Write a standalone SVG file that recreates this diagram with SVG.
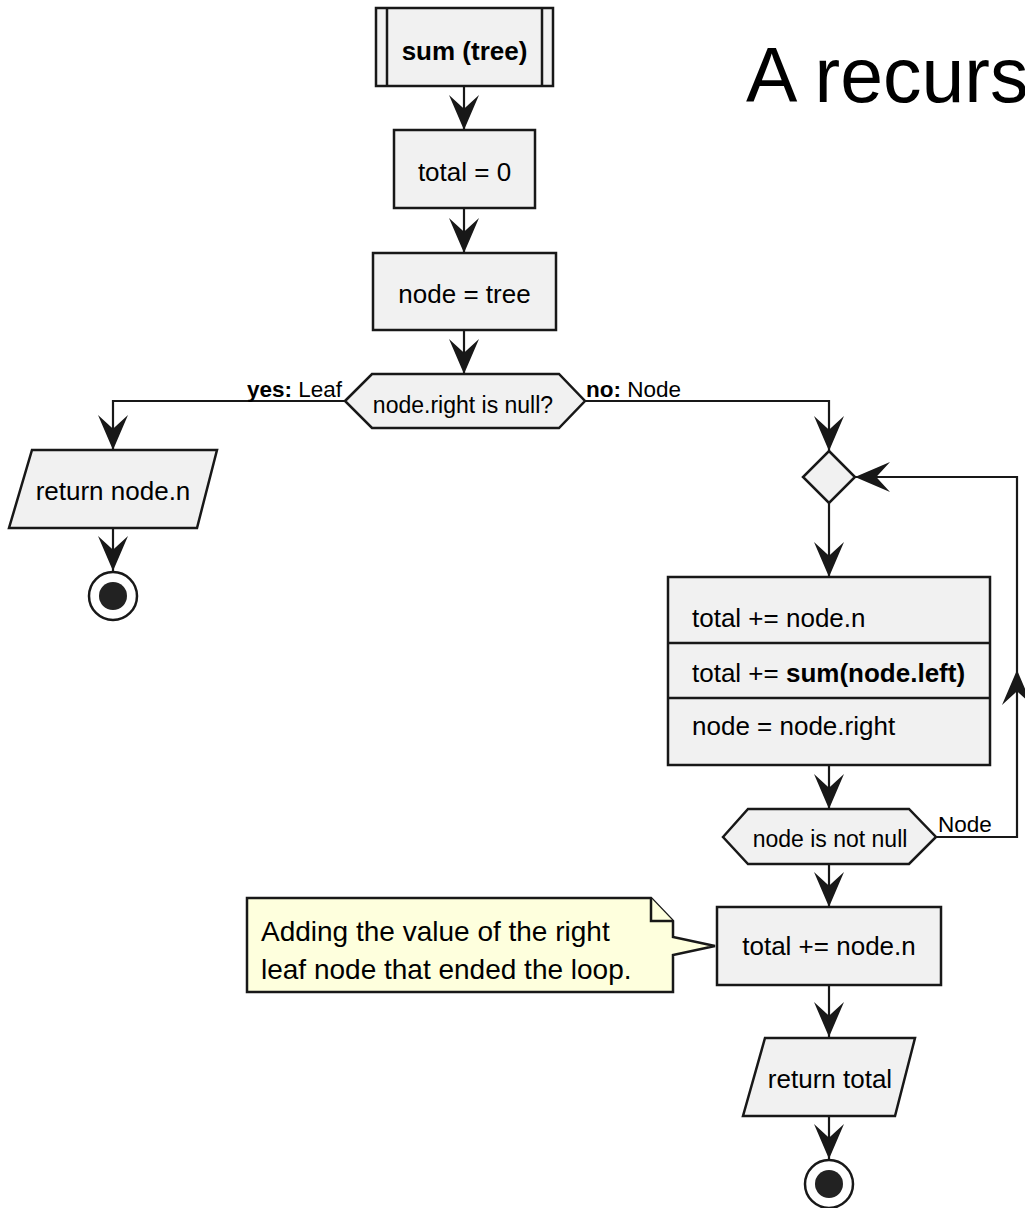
<svg xmlns="http://www.w3.org/2000/svg" width="1025" height="1208" viewBox="0 0 1025 1208">
  <style>
    text { font-family: "Liberation Sans", Arial, sans-serif; fill: #000; }
    .box { fill: #F1F1F1; stroke: #181818; stroke-width: 2.5; }
    .note { fill: #FEFFDD; stroke: #181818; stroke-width: 2.5; stroke-linejoin: miter; }
    .act { font-size: 26px; }
    .cond { font-size: 23px; }
    .lbl { font-size: 22.5px; }
    .notetext { font-size: 28px; }
    .title { font-size: 77px; }
    .edge { fill: none; stroke: #181818; stroke-width: 2.2; marker-end: url(#arrow); }
    .ring { fill: #FFFFFF; stroke: #181818; stroke-width: 2.5; }
    .dot { fill: #222222; }
    .b { font-weight: bold; }
  </style>
  <defs>
    <marker id="arrow" markerUnits="userSpaceOnUse" markerWidth="40" markerHeight="40" viewBox="-30 -15 32 30" refX="0" refY="0" orient="auto">
      <path d="M0,0 L-28,-12 L-17,0 L-28,12 Z" fill="#181818"/>
    </marker>
  </defs>

  <rect width="1025" height="1208" fill="#FFFFFF"/>

  <!-- diagram title (clipped by the right edge) -->
  <text id="title" class="title" x="746" y="102">A recurs</text>

  <!-- connectors -->
  <g id="connectors">
    <path class="edge" d="M464,86 V130"/>
    <path class="edge" d="M464,208 V253"/>
    <path class="edge" d="M464,330 V374"/>
    <path class="edge" d="M345,401 H113 V450"/>
    <path class="edge" d="M113,528 V571"/>
    <path class="edge" d="M585,401 H829 V451"/>
    <path class="edge" d="M829,502 V577"/>
    <path class="edge" d="M829,765 V809"/>
    <path class="edge" d="M936,837 H1017 V670"/>
    <path class="edge" d="M1017,670 V477 H855"/>
    <path class="edge" d="M829,864 V907"/>
    <path class="edge" d="M829,985 V1037"/>
    <path class="edge" d="M829,1116 V1159"/>
    <text class="lbl" x="342" y="397" text-anchor="end"><tspan class="b">yes:</tspan> Leaf</text>
    <text class="lbl" x="586" y="397"><tspan class="b">no:</tspan> Node</text>
    <text class="lbl" x="938" y="832">Node</text>
  </g>

  <!-- start: procedure header -->
  <g id="start">
    <rect class="box" x="376" y="8" width="177" height="78"/>
    <line x1="387" y1="8" x2="387" y2="86" stroke="#181818" stroke-width="2.5"/>
    <line x1="542" y1="8" x2="542" y2="86" stroke="#181818" stroke-width="2.5"/>
    <text class="act b" x="464.5" y="60" text-anchor="middle">sum (tree)</text>
  </g>

  <g id="init_total">
    <rect class="box" x="394" y="130" width="141" height="78"/>
    <text class="act" x="464.5" y="181" text-anchor="middle">total = 0</text>
  </g>

  <g id="init_node">
    <rect class="box" x="373" y="253" width="183" height="77"/>
    <text class="act" x="464.5" y="303" text-anchor="middle">node = tree</text>
  </g>

  <g id="is_leaf">
    <polygon class="box" points="345,401 372,374 559,374 585,401 559,428 372,428"/>
    <text class="cond" x="463" y="413" text-anchor="middle">node.right is null?</text>
  </g>

  <g id="return_leaf">
    <polygon class="box" points="32,450 217,450 197,528 9,528"/>
    <text class="act" x="113" y="500" text-anchor="middle">return node.n</text>
  </g>

  <g id="end_leaf">
    <circle class="ring" cx="113" cy="596" r="24"/>
    <circle class="dot" cx="113" cy="596" r="14"/>
  </g>

  <g id="loop_merge">
    <polygon class="box" points="829,451 855,477 829,503 803,477"/>
  </g>

  <g id="loop_body">
    <rect class="box" x="668" y="577" width="322" height="188"/>
    <line x1="668" y1="643" x2="990" y2="643" stroke="#181818" stroke-width="2.5"/>
    <line x1="668" y1="698" x2="990" y2="698" stroke="#181818" stroke-width="2.5"/>
    <text class="act" x="692" y="627">total += node.n</text>
    <text class="act" x="692" y="682">total += <tspan class="b">sum(node.left)</tspan></text>
    <text class="act" x="692" y="735">node = node.right</text>
  </g>

  <g id="loop_test">
    <polygon class="box" points="723,837 748,809 909,809 936,837 909,864 748,864"/>
    <text class="cond" x="830" y="847" text-anchor="middle">node is not null</text>
  </g>

  <g id="add_last">
    <rect class="box" x="717" y="907" width="224" height="78"/>
    <text class="act" x="829" y="955" text-anchor="middle">total += node.n</text>
  </g>

  <g id="note_add_last">
    <path class="note" d="M247,898 H651 L673,921 V937 L715,946 L673,955 V992 H247 Z"/>
    <path class="note" d="M651,898 V921 H673" fill="none"/>
    <text class="notetext" x="261" y="941">Adding the value of the right</text>
    <text class="notetext" x="261" y="979">leaf node that ended the loop.</text>
  </g>

  <g id="return_total">
    <polygon class="box" points="765,1038 915,1038 895,1116 743,1116"/>
    <text class="act" x="830" y="1088" text-anchor="middle">return total</text>
  </g>

  <g id="end_total">
    <circle class="ring" cx="829" cy="1184" r="24"/>
    <circle class="dot" cx="829" cy="1184" r="14"/>
  </g>
</svg>
